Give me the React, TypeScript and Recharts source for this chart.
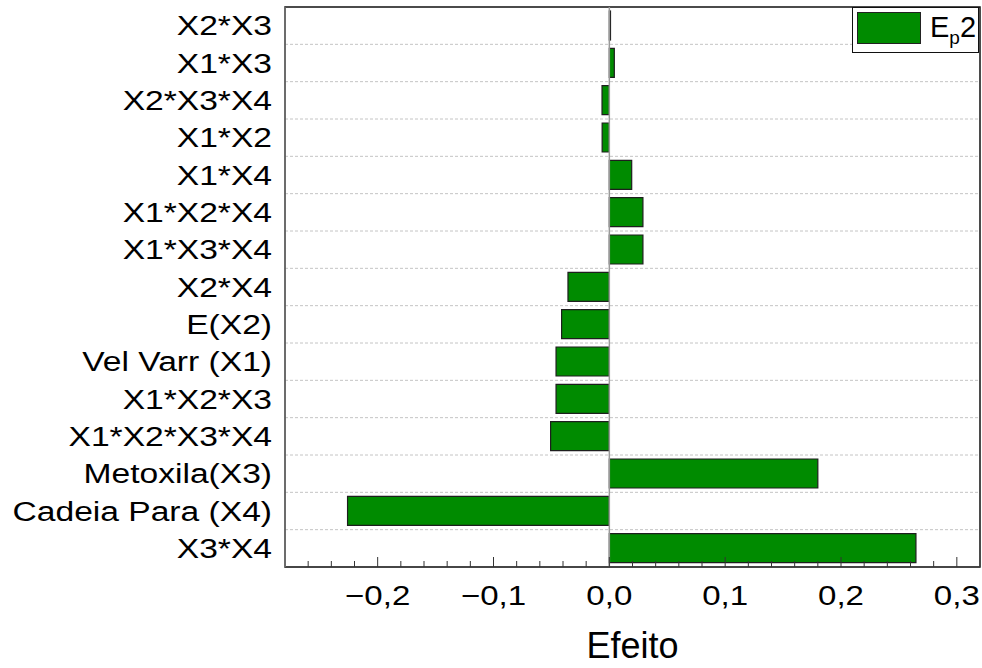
import {
  Bar,
  BarChart,
  CartesianGrid,
  Legend,
  ReferenceArea,
  ReferenceLine,
  XAxis,
  YAxis,
} from "recharts";

// top to bottom
const terms = [
  "X2*X3",
  "X1*X3",
  "X2*X3*X4",
  "X1*X2",
  "X1*X4",
  "X1*X2*X4",
  "X1*X3*X4",
  "X2*X4",
  "E(X2)",
  "Vel Varr (X1)",
  "X1*X2*X3",
  "X1*X2*X3*X4",
  "Metoxila(X3)",
  "Cadeia Para (X4)",
  "X3*X4",
];

const effects = [
  0.001, 0.0043, -0.0063, -0.0062, 0.0193, 0.029, 0.029, -0.0357, -0.0412,
  -0.046, -0.046, -0.0507, 0.18, -0.226, 0.2647,
];

const xTicks = [
  -0.26, -0.24, -0.22, -0.2, -0.18, -0.16, -0.14, -0.12, -0.1, -0.08, -0.06,
  -0.04, -0.02, 0, 0.02, 0.04, 0.06, 0.08, 0.1, 0.12, 0.14, 0.16, 0.18, 0.2,
  0.22, 0.24, 0.26, 0.28, 0.3,
];

const X_DOMAIN: [number, number] = [-0.28, 0.32];
const GREEN = "#008b00";
const FONT = "'Liberation Sans', Arial, sans-serif";

const data = terms.map((name, i) => ({ name, effect: effects[i] }));

function formatTick(v: number) {
  return v.toFixed(1).replace(".", ",").replace("-", "\u2212");
}

function XTick({ x, y, payload }: any) {
  const v = payload.value as number;
  const major = Math.abs(v * 10 - Math.round(v * 10)) < 1e-6;
  return (
    <g>
      <line x1={x} x2={x} y1={y} y2={y - (major ? 10 : 6)} stroke="#333" strokeWidth={1} />
      {major && (
        <text
          transform={`translate(${x},${y + 38}) scale(1.18,1)`}
          textAnchor="middle"
          fontFamily={FONT}
          fontSize={28}
          fill="#000"
        >
          {formatTick(v)}
        </text>
      )}
    </g>
  );
}

function YTick({ x, y, payload }: any) {
  return (
    <text
      transform={`translate(${x - 13},${y}) scale(1.2,1)`}
      textAnchor="end"
      dominantBaseline="central"
      fontFamily={FONT}
      fontSize={28}
      fill="#000"
    >
      {payload.value}
    </text>
  );
}

function LegendBox() {
  return (
    <div
      style={{
        position: "relative",
        width: 127,
        height: 46,
        boxSizing: "border-box",
        border: "1.5px solid #111",
        background: "#fff",
        fontFamily: FONT,
      }}
    >
      <div
        style={{
          position: "absolute",
          left: 4,
          top: 4,
          width: 64,
          height: 32,
          boxSizing: "border-box",
          background: GREEN,
          border: "1px solid #222",
        }}
      />
      <div
        style={{
          position: "absolute",
          left: 77,
          top: 4,
          fontSize: 29,
          lineHeight: "30px",
          color: "#000",
          whiteSpace: "nowrap",
        }}
      >
        E<sub style={{ fontSize: 19, verticalAlign: -7, lineHeight: 0 }}>p</sub>2
      </div>
    </div>
  );
}

export default function App() {
  return (
    <div style={{ position: "absolute", left: 0, top: 0, background: "#fff" }}>
      <BarChart
        width={982}
        height={668}
        data={data}
        layout="vertical"
        margin={{ top: 7, right: 2, left: 0, bottom: 0 }}
        barSize={29}
      >
        <CartesianGrid
          vertical={false}
          stroke="#c4c4c4"
          strokeDasharray="3 2"
          horizontalCoordinatesGenerator={({ offset }: any) =>
            terms.slice(1).map((_, i) => offset.top + (offset.height * (i + 1)) / terms.length)
          }
        />
        <XAxis
          type="number"
          domain={X_DOMAIN}
          ticks={xTicks}
          interval={0}
          allowDataOverflow
          height={101}
          tickLine={false}
          tickSize={0}
          tickMargin={0}
          axisLine={{ stroke: "#444", strokeWidth: 1.5 }}
          tick={<XTick />}
          label={{
            value: "Efeito",
            position: "insideBottom",
            offset: 10,
            fontFamily: FONT,
            fontSize: 36,
            fill: "#000",
          }}
        />
        <YAxis
          type="category"
          dataKey="name"
          width={285}
          interval={0}
          tickLine={false}
          tickSize={0}
          tickMargin={0}
          axisLine={{ stroke: "#777", strokeWidth: 1.5 }}
          tick={<YTick />}
        />
        <ReferenceLine x={0} stroke="#999" strokeWidth={1.5} />
        <Bar
          dataKey="effect"
          name="Ep2"
          fill={GREEN}
          stroke="#1e1e1e"
          strokeWidth={1.2}
          isAnimationActive={false}
        />
        <ReferenceArea
          x1={X_DOMAIN[0]}
          x2={X_DOMAIN[1]}
          fill="none"
          stroke="#111"
          strokeWidth={1.5}
          ifOverflow="visible"
        />
        <Legend
          layout="vertical"
          align="center"
          verticalAlign="middle"
          wrapperStyle={{ top: 7, left: 852, width: 127, height: 46 }}
          content={() => <LegendBox />}
        />
      </BarChart>
    </div>
  );
}
